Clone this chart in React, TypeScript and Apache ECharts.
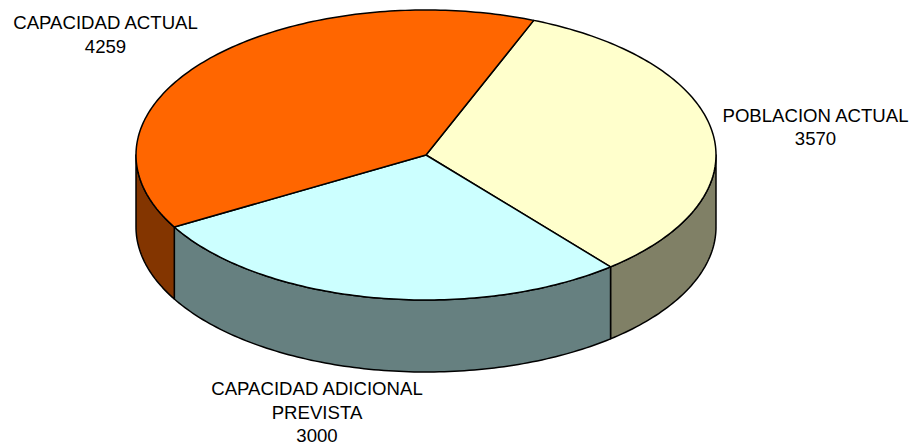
import React, { useEffect, useRef } from "react";
import * as echarts from "echarts";

const categories = ["POBLACION ACTUAL", "CAPACIDAD ADICIONAL\nPREVISTA", "CAPACIDAD ACTUAL"];
const values = [3570, 3000, 4259];
const topColors = ["#FFFFCC", "#CCFFFF", "#FF6600"];
const sideColors = ["#808066", "#668080", "#833500"];
const labelSpots = [
  { x: 815.5, y: 127 },
  { x: 317, y: 412 },
  { x: 105.5, y: 34.5 },
];

const CX = 426;
const CY = 155;
const RX = 290;
const RY = 145;
const DEPTH = 72;
const START = (68.2 * Math.PI) / 180;

const px = (t: number) => CX + RX * Math.cos(t);
const py = (t: number, d = 0) => CY - RY * Math.sin(t) + d;

function arcPoints(a: number, b: number, d: number) {
  const n = Math.max(2, Math.ceil((Math.abs(b - a) * 180) / Math.PI));
  const pts: number[][] = [];
  for (let i = 0; i <= n; i++) {
    const t = a + ((b - a) * i) / n;
    pts.push([px(t), py(t, d)]);
  }
  return pts;
}

export default function App() {
  const ref = useRef<HTMLDivElement>(null);
  useEffect(() => {
    const chart = echarts.init(ref.current!, undefined, { renderer: "svg" });
    const total = values.reduce((s, v) => s + v, 0);
    const slices: { a: number; b: number }[] = [];
    let cur = START;
    values.forEach((v) => {
      const next = cur - (v / total) * Math.PI * 2;
      slices.push({ a: cur, b: next });
      cur = next;
    });

    const renderItem = (params: any) => {
      const i = params.dataIndex;
      const { a, b } = slices[i];
      const children: any[] = [];
      // The wall is visible only on the front half of the ellipse.
      const hi = Math.min(a, 0);
      const lo = Math.max(b, -Math.PI);
      if (hi > lo) {
        children.push({
          type: "polygon",
          shape: { points: [...arcPoints(hi, lo, 0), ...arcPoints(lo, hi, DEPTH)] },
          style: { fill: sideColors[i], stroke: "#000", lineWidth: 1.5, lineJoin: "round" },
          z2: 1,
        });
      }
      children.push({
        type: "polygon",
        shape: { points: [[CX, CY], ...arcPoints(a, b, 0)] },
        style: { fill: topColors[i], stroke: "#000", lineWidth: 1.5, lineJoin: "round" },
        z2: 2,
      });
      const spot = labelSpots[i];
      children.push({
        type: "text",
        x: spot.x,
        y: spot.y,
        style: {
          text: `${categories[i]}\n${values[i]}`,
          fill: "#000",
          font: '18.6px "Liberation Sans", Arial, sans-serif',
          lineHeight: 23.5,
          align: "center",
          verticalAlign: "middle",
        },
        z2: 3,
      });
      return { type: "group", children };
    };

    chart.setOption({
      animation: false,
      backgroundColor: "#fff",
      series: [
        {
          type: "custom",
          coordinateSystem: "none",
          silent: true,
          clip: false,
          data: values,
          renderItem,
        },
      ],
    });
    return () => chart.dispose();
  }, []);
  return <div ref={ref} style={{ position: "fixed", left: 0, top: 0, width: 914, height: 446 }} />;
}
